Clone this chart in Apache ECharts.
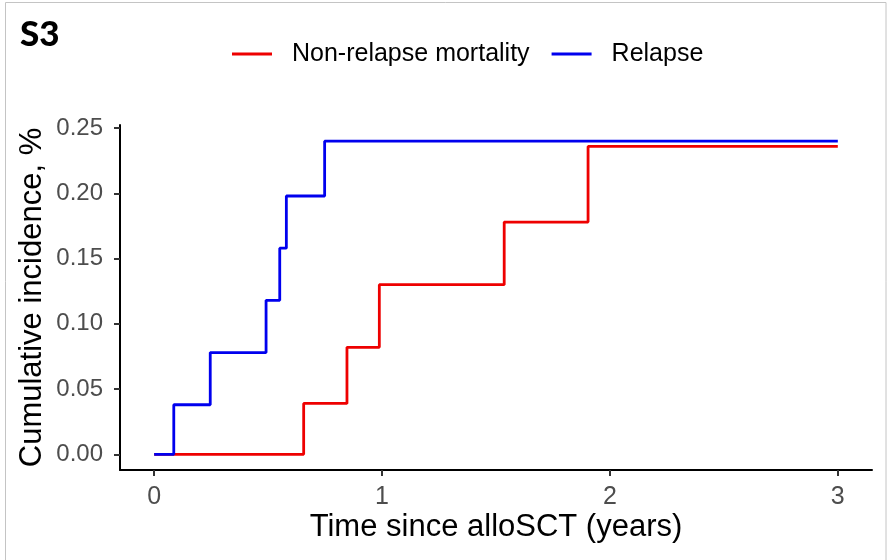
<!DOCTYPE html>
<html>
<head>
<meta charset="utf-8">
<script src="https://cdn.jsdelivr.net/npm/echarts@6/dist/echarts.min.js"></script>
<style>
html,body{margin:0;padding:0;background:#fff;}
#chart{width:888px;height:560px;}
</style>
</head>
<body>
<div id="chart"></div>
<script>
// Data
const seriesNames = ['Non-relapse mortality', 'Relapse'];
const nrmTimes = [0, 0.656, 0.846, 0.988, 1.536, 1.904, 3.0];
const nrmValues = [0, 0.039, 0.082, 0.130, 0.178, 0.236, 0.236];
const relTimes = [0, 0.086, 0.246, 0.491, 0.551, 0.580, 0.748, 3.0];
const relValues = [0, 0.038, 0.078, 0.118, 0.158, 0.198, 0.240, 0.240];
const xTicks = [0, 1, 2, 3];
const yTicks = [0, 0.05, 0.10, 0.15, 0.20, 0.25];

const pairs = (xs, ys) => xs.map((x, i) => [x, ys[i]]);

const chart = echarts.init(document.getElementById('chart'), null, {renderer: 'canvas'});
const labelFont = 'Liberation Sans, Arial, sans-serif';
chart.setOption({
  animation: false,
  backgroundColor: '#ffffff',
  title: {
    text: 'S3',
    left: 20,
    top: 17,
    padding: 0,
    textStyle: {fontFamily: 'Lato, Open Sans, sans-serif', fontWeight: 900, fontSize: 35, color: '#000', lineHeight: 35}
  },
  graphic: [{
    type: 'rect',
    shape: {x: 5.5, y: 2.5, width: 880.5, height: 600},
    style: {fill: 'none', stroke: '#c4c4c4', lineWidth: 1},
    silent: true
  }],
  legend: {
    left: 232,
    top: 39,
    padding: 0,
    itemGap: 22,
    itemWidth: 40,
    itemHeight: 3,
    icon: 'rect',
    data: seriesNames,
    textStyle: {fontFamily: labelFont, fontSize: 25, color: '#000', lineHeight: 30, padding: [0, 0, 0, 15]}
  },
  grid: {left: 120, right: 16, top: 125, bottom: 90, containLabel: false},
  xAxis: {
    type: 'value',
    min: -0.15,
    max: 3.15,
    name: 'Time since alloSCT (years)',
    nameLocation: 'middle',
    nameGap: 42,
    nameMoveOverlap: false,
    nameTextStyle: {fontFamily: labelFont, fontSize: 31, color: '#000'},
    axisLine: {show: true, onZero: false, lineStyle: {color: '#000', width: 2}},
    axisTick: {show: true, customValues: xTicks, length: 6, lineStyle: {color: '#333', width: 2}},
    axisLabel: {customValues: xTicks, margin: 15, fontFamily: labelFont, fontSize: 25, color: '#4d4d4d', formatter: v => String(v)},
    splitLine: {show: false}
  },
  yAxis: {
    type: 'value',
    min: -0.012,
    max: 0.2524,
    name: 'Cumulative incidence, %',
    nameLocation: 'middle',
    nameGap: 72,
    nameRotate: 90,
    nameMoveOverlap: false,
    nameTextStyle: {fontFamily: labelFont, fontSize: 31, color: '#000'},
    axisLine: {show: true, onZero: false, lineStyle: {color: '#000', width: 2}},
    axisTick: {show: true, customValues: yTicks, length: 6, lineStyle: {color: '#333', width: 2}},
    axisLabel: {customValues: yTicks, margin: 17, fontFamily: labelFont, fontSize: 24, color: '#4d4d4d', formatter: v => v.toFixed(2)},
    splitLine: {show: false}
  },
  series: [
    {
      name: seriesNames[0],
      type: 'line',
      step: 'end',
      showSymbol: false,
      symbol: 'none',
      data: pairs(nrmTimes, nrmValues),
      itemStyle: {color: '#ee0000'},
      lineStyle: {color: '#ee0000', width: 2.8}
    },
    {
      name: seriesNames[1],
      type: 'line',
      step: 'end',
      showSymbol: false,
      symbol: 'none',
      data: pairs(relTimes, relValues),
      itemStyle: {color: '#0000ee'},
      lineStyle: {color: '#0000ee', width: 2.8}
    }
  ]
});
</script>
</body>
</html>
